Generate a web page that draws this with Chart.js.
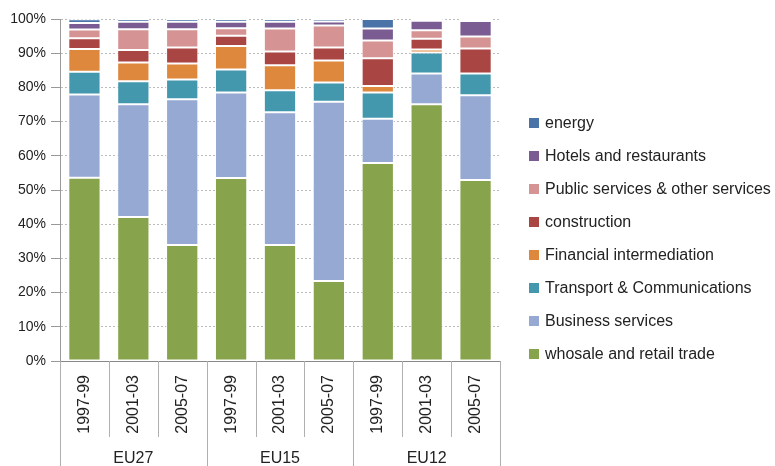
<!DOCTYPE html>
<html><head><meta charset="utf-8">
<script src="https://cdn.jsdelivr.net/npm/chart.js@4"></script>
<style>
body{margin:0;background:#fff;font-family:"Liberation Sans",Arial,sans-serif}
#wrap{position:relative;width:775px;height:466px}
#legend{position:absolute;left:529px;top:113px;font-size:16px;color:#222}
#legend div{height:33px;line-height:20px;white-space:nowrap}
#legend span{display:inline-block;width:10px;height:10px;margin-right:6px;vertical-align:0px}
</style></head>
<body><div id="wrap"><canvas id="c" width="775" height="466"></canvas><div id="legend"></div></div>
<script>
const periods = ['1997-99','2001-03','2005-07','1997-99','2001-03','2005-07','1997-99','2001-03','2005-07'];
const groups = ['EU27','EU15','EU12'];
const trade        = [53.6,42.1,33.9,53.5,33.9,23.4,57.9,75.1,52.9];
const business     = [24.3,33.0,42.6,25.0,38.8,52.4,12.9, 9.0,24.8];
const transport    = [ 6.7, 6.7, 5.8, 6.7, 6.5, 5.6, 7.7, 6.1, 6.4];
const financial    = [ 6.6, 5.5, 4.7, 6.9, 7.3, 6.5, 1.9, 0.9, 0.0];
const construction = [ 3.2, 3.6, 4.7, 3.0, 4.0, 3.8, 8.1, 3.1, 7.3];
const publicSvc    = [ 2.5, 6.1, 5.3, 2.2, 6.7, 6.4, 5.2, 2.5, 3.5];
const hotels       = [ 1.9, 2.2, 2.2, 1.9, 2.0, 1.2, 3.5, 2.8, 4.5];
const energy       = [ 1.1, 0.8, 0.8, 0.8, 0.8, 0.7, 2.8, 0.5, 0.6];

const series = [
  ['whosale and retail trade', trade, '#87A44C'],
  ['Business services', business, '#95A9D3'],
  ['Transport & Communications', transport, '#4398AE'],
  ['Financial intermediation', financial, '#DD883D'],
  ['construction', construction, '#A94543'],
  ['Public services & other services', publicSvc, '#D59393'],
  ['Hotels and restaurants', hotels, '#7A5C93'],
  ['energy', energy, '#4A73A8']
];

const FONT = '"Liberation Sans", Arial, sans-serif';

const groupAxis = {
  id:'groupAxis',
  afterDraw(chart){
    const ctx = chart.ctx, area = chart.chartArea;
    const n = periods.length, w = (area.right-area.left)/n;
    ctx.save();
    ctx.strokeStyle = '#b0b0b0'; ctx.lineWidth = 1;
    for(let i=0;i<=n;i++){
      const x = Math.round(area.left + i*w)+0.5;
      const isGroup = i%3===0;
      ctx.beginPath(); ctx.moveTo(x, area.bottom); ctx.lineTo(x, isGroup?466:437); ctx.stroke();
    }
    ctx.fillStyle = '#222'; ctx.font = '16px ' + FONT;
    ctx.textAlign = 'center'; ctx.textBaseline = 'middle';
    groups.forEach((g,k)=>{ ctx.fillText(g, area.left + (k*3+1.5)*w, 459); });
    ctx.restore();
  }
};

new Chart(document.getElementById('c'), {
  type:'bar',
  data:{labels:periods, datasets:series.map(s=>({label:s[0], data:s[1], backgroundColor:s[2], borderColor:'#fff', borderWidth:1, borderSkipped:false, categoryPercentage:1, barPercentage:0.66}))},
  options:{
    responsive:false, animation:false,
    layout:{padding:{top:19,right:275,left:0,bottom:0}},
    plugins:{legend:{display:false}, tooltip:{enabled:false}},
    scales:{
      x:{stacked:true, grid:{display:false}, border:{display:true,color:'#888'},
         ticks:{minRotation:90,maxRotation:90,padding:6,color:'#222',font:{size:16,family:FONT}},
         afterFit(s){s.height=105;}},
      y:{stacked:true, min:0, max:100, ticks:{stepSize:10, callback:v=>v+'%', color:'#222', padding:5, font:{size:14,family:FONT}},
         grid:{color:'#bbb', tickLength:9, tickColor:'#999'}, border:{color:'#999', dash:[2,2]},
         afterFit(s){s.width=60;}}
    }
  },
  plugins:[groupAxis]
});

const lg = document.getElementById('legend');
series.slice().reverse().forEach(s=>{
  const d = document.createElement('div');
  const sp = document.createElement('span'); sp.style.background = s[2];
  d.appendChild(sp); d.appendChild(document.createTextNode(s[0])); lg.appendChild(d);
});
</script>
</body></html>
